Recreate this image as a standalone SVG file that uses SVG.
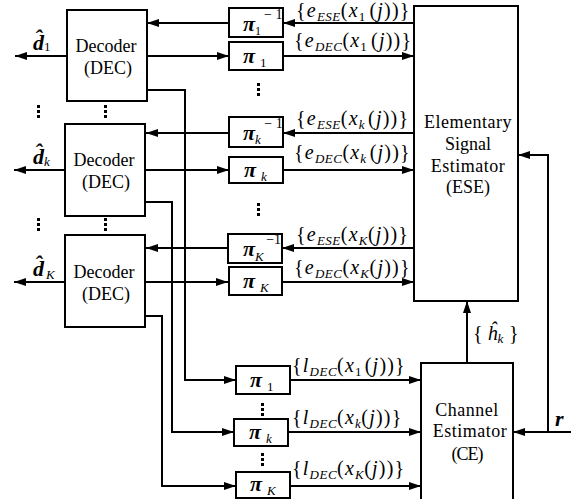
<svg xmlns="http://www.w3.org/2000/svg" width="571" height="499" viewBox="0 0 571 499" font-family="'Liberation Serif', 'DejaVu Serif', serif">
<defs>
<marker id="ah" viewBox="0 0 12 8" refX="12" refY="4" markerWidth="12" markerHeight="8" orient="auto" markerUnits="userSpaceOnUse"><path d="M0,0 L12,4 L0,8 z" fill="#000"/></marker>
<style>
.box{fill:#fff;stroke:#000;stroke-width:2}
.ar{fill:none;stroke:#000;stroke-width:2;marker-end:url(#ah)}
text{font-family:'Liberation Serif','DejaVu Serif',serif;fill:#000}
.bt{font-size:18px;text-anchor:middle}
.lb{font-size:20px;letter-spacing:1.2px}
.it{font-style:italic}
.sb{font-size:13px;font-style:italic;letter-spacing:0.5px}
.pi{font-size:22px;font-style:italic;font-weight:bold}
.dh{font-size:22px;font-style:italic;font-weight:bold}
.dot{fill:#000}
</style>
</defs>
<g id="connectors">
<line class="ar" x1="414" y1="23" x2="283" y2="23"/>
<line class="ar" x1="229" y1="23" x2="147" y2="23"/>
<line class="ar" x1="147" y1="56" x2="229" y2="56"/>
<line class="ar" x1="283" y1="56" x2="414" y2="56"/>
<line class="ar" x1="414" y1="133" x2="283" y2="133"/>
<line class="ar" x1="229" y1="133" x2="146" y2="133"/>
<line class="ar" x1="146" y1="170" x2="229" y2="170"/>
<line class="ar" x1="283" y1="170" x2="414" y2="170"/>
<line class="ar" x1="414" y1="248" x2="282" y2="248"/>
<line class="ar" x1="228" y1="248" x2="146" y2="248"/>
<line class="ar" x1="146" y1="282" x2="228" y2="282"/>
<line class="ar" x1="282" y1="282" x2="414" y2="282"/>
<line class="ar" x1="67" y1="56" x2="15" y2="56"/>
<line class="ar" x1="65" y1="170" x2="14" y2="170"/>
<line class="ar" x1="65" y1="282" x2="14" y2="282"/>
<polyline class="ar" points="147,90 185,90 185,380 236,380"/>
<polyline class="ar" points="145,202 172,202 172,432 234,432"/>
<polyline class="ar" points="145,316 162,316 162,486 236,486"/>
<line class="ar" x1="290" y1="380" x2="421" y2="380"/>
<line class="ar" x1="288" y1="432" x2="421" y2="432"/>
<line class="ar" x1="290" y1="486" x2="421" y2="486"/>
<line class="ar" x1="467" y1="363" x2="467" y2="301"/>
<line class="ar" x1="571" y1="432" x2="513" y2="432"/>
<polyline class="ar" points="548,432 548,155 518,155"/>
</g>
<g id="ese"><rect class="box" x="414" y="6" width="104" height="295"/>
<text class="bt" x="468" y="128" letter-spacing="0.5">Elementary</text>
<text class="bt" x="468" y="150">Signal</text>
<text class="bt" x="468" y="172" letter-spacing="0.5">Estimator</text>
<text class="bt" x="468" y="193">(ESE)</text></g>
<g id="ce"><rect class="box" x="421" y="363" width="92" height="145"/>
<text class="bt" x="467" y="416" letter-spacing="0.5">Channel</text>
<text class="bt" x="470" y="437" letter-spacing="0.5">Estimator</text>
<text class="bt" x="467" y="460" letter-spacing="-1">(CE)</text></g>
<g id="dec1"><rect class="box" x="67" y="10" width="80" height="91"/>
<text class="bt" x="106" y="52">Decoder</text><text class="bt" x="108" y="74">(DEC)</text></g>
<g id="deck"><rect class="box" x="65" y="124" width="80" height="92"/>
<text class="bt" x="104" y="166">Decoder</text><text class="bt" x="106" y="188">(DEC)</text></g>
<g id="decK"><rect class="box" x="65" y="235" width="80" height="92"/>
<text class="bt" x="104" y="278">Decoder</text><text class="bt" x="106" y="300">(DEC)</text></g>
<g id="pi1inv"><rect class="box" x="229" y="8" width="54" height="29"/>
<text x="243" y="31"><tspan class="pi">π</tspan><tspan font-size="12" dy="4">1</tspan><tspan font-size="14" dx="3" dy="-16">− 1</tspan></text></g>
<g id="pi1"><rect class="box" x="229" y="42" width="54" height="28"/>
<text x="243" y="63"><tspan class="pi">π</tspan><tspan font-size="13" dx="5" dy="4">1</tspan></text></g>
<g id="pikinv"><rect class="box" x="229" y="117" width="54" height="30"/>
<text x="243" y="140"><tspan class="pi">π</tspan><tspan class="sb" dy="4">k</tspan><tspan font-size="14" dx="3" dy="-16">− 1</tspan></text></g>
<g id="pik"><rect class="box" x="229" y="157" width="54" height="26"/>
<text x="244" y="177"><tspan class="pi">π</tspan><tspan class="sb" dx="5" dy="4">k</tspan></text></g>
<g id="piKinv"><rect class="box" x="228" y="234" width="54" height="29"/>
<text x="243" y="256"><tspan class="pi">π</tspan><tspan class="sb" dy="5">K</tspan><tspan font-size="14" dx="2" dy="-17">−1</tspan></text></g>
<g id="piK"><rect class="box" x="229" y="267" width="53" height="28"/>
<text x="243" y="288"><tspan class="pi">π</tspan><tspan class="sb" dx="5" dy="4">K</tspan></text></g>
<g id="pib1"><rect class="box" x="236" y="366" width="54" height="28"/>
<text x="250" y="387"><tspan class="pi">π</tspan><tspan font-size="13" dx="5" dy="4">1</tspan></text></g>
<g id="pibk"><rect class="box" x="234" y="419" width="54" height="27"/>
<text x="249" y="439"><tspan class="pi">π</tspan><tspan class="sb" dx="5" dy="4">k</tspan></text></g>
<g id="pibK"><rect class="box" x="236" y="472" width="54" height="26"/>
<text x="250" y="491"><tspan class="pi">π</tspan><tspan class="sb" dx="5" dy="4">K</tspan></text></g>
<g id="labels">
<text class="lb" x="296" y="17">{<tspan class="it">e</tspan><tspan class="sb" dy="4">ESE</tspan><tspan dy="-4">(</tspan><tspan class="it">x</tspan><tspan font-size="13" dy="4">1</tspan><tspan dx="3" dy="-4">(</tspan><tspan class="it">j</tspan>))}</text>
<text class="lb" x="294" y="47">{<tspan class="it">e</tspan><tspan class="sb" dy="4">DEC</tspan><tspan dy="-4">(</tspan><tspan class="it">x</tspan><tspan font-size="13" dy="4">1</tspan><tspan dx="3" dy="-4">(</tspan><tspan class="it">j</tspan>))}</text>
<text class="lb" x="296" y="125">{<tspan class="it">e</tspan><tspan class="sb" dy="4">ESE</tspan><tspan dy="-4">(</tspan><tspan class="it">x</tspan><tspan class="sb" dy="4">k</tspan><tspan dx="3" dy="-4">(</tspan><tspan class="it">j</tspan>))}</text>
<text class="lb" x="294" y="159">{<tspan class="it">e</tspan><tspan class="sb" dy="4">DEC</tspan><tspan dy="-4">(</tspan><tspan class="it">x</tspan><tspan class="sb" dy="4">k</tspan><tspan dx="3" dy="-4">(</tspan><tspan class="it">j</tspan>))}</text>
<text class="lb" x="296" y="241">{<tspan class="it">e</tspan><tspan class="sb" dy="4">ESE</tspan><tspan dy="-4">(</tspan><tspan class="it">x</tspan><tspan class="sb" dy="4">K</tspan><tspan dy="-4">(</tspan><tspan class="it">j</tspan>))}</text>
<text class="lb" x="294" y="274">{<tspan class="it">e</tspan><tspan class="sb" dy="4">DEC</tspan><tspan dy="-4">(</tspan><tspan class="it">x</tspan><tspan class="sb" dy="4">K</tspan><tspan dy="-4">(</tspan><tspan class="it">j</tspan>))}</text>
<text class="lb" x="292" y="372">{<tspan class="it">l</tspan><tspan class="sb" dy="4">DEC</tspan><tspan dy="-4">(</tspan><tspan class="it">x</tspan><tspan font-size="13" dy="4">1</tspan><tspan dx="2" dy="-4">(</tspan><tspan class="it">j</tspan>))}</text>
<text class="lb" x="292" y="424">{<tspan class="it">l</tspan><tspan class="sb" dy="4">DEC</tspan><tspan dy="-4">(</tspan><tspan class="it">x</tspan><tspan class="sb" dy="4">k</tspan><tspan dy="-4">(</tspan><tspan class="it">j</tspan>))}</text>
<text class="lb" x="292" y="475">{<tspan class="it">l</tspan><tspan class="sb" dy="4">DEC</tspan><tspan dy="-4">(</tspan><tspan class="it">x</tspan><tspan class="sb" dy="4">K</tspan><tspan dy="-4">(</tspan><tspan class="it">j</tspan>))}</text>
<text font-size="20" x="473" y="340">{ <tspan class="it">ĥ</tspan><tspan class="sb" dy="3">k</tspan><tspan dy="-3"> }</tspan></text>
<text x="555" y="426" font-size="22" font-weight="bold" font-style="italic">r</text>
<text x="33" y="50"><tspan class="dh">d̂</tspan><tspan font-size="13" dy="1">1</tspan></text>
<text x="33" y="164"><tspan class="dh">d̂</tspan><tspan class="sb" dy="2">k</tspan></text>
<text x="33" y="276"><tspan class="dh">d̂</tspan><tspan class="sb" dx="2" dy="3">K</tspan></text>
</g>
<g id="dots" class="dot">
<rect x="37" y="105" width="3" height="3"/><rect x="37" y="110" width="3" height="3"/><rect x="37" y="115" width="3" height="3"/>
<rect x="104" y="105" width="3" height="3"/><rect x="104" y="110" width="3" height="3"/><rect x="104" y="115" width="3" height="3"/>
<rect x="257" y="83" width="3" height="3"/><rect x="257" y="88" width="3" height="3"/><rect x="257" y="93" width="3" height="3"/>
<rect x="37" y="218" width="3" height="3"/><rect x="37" y="223" width="3" height="3"/><rect x="37" y="228" width="3" height="3"/>
<rect x="104" y="218" width="3" height="3"/><rect x="104" y="223" width="3" height="3"/><rect x="104" y="228" width="3" height="3"/>
<rect x="257" y="203" width="3" height="3"/><rect x="257" y="208" width="3" height="3"/><rect x="257" y="213" width="3" height="3"/>
<rect x="261" y="403" width="3" height="3"/><rect x="261" y="408" width="3" height="3"/><rect x="261" y="413" width="3" height="3"/>
<rect x="261" y="453" width="3" height="3"/><rect x="261" y="458" width="3" height="3"/><rect x="261" y="463" width="3" height="3"/>
</g>
</svg>
